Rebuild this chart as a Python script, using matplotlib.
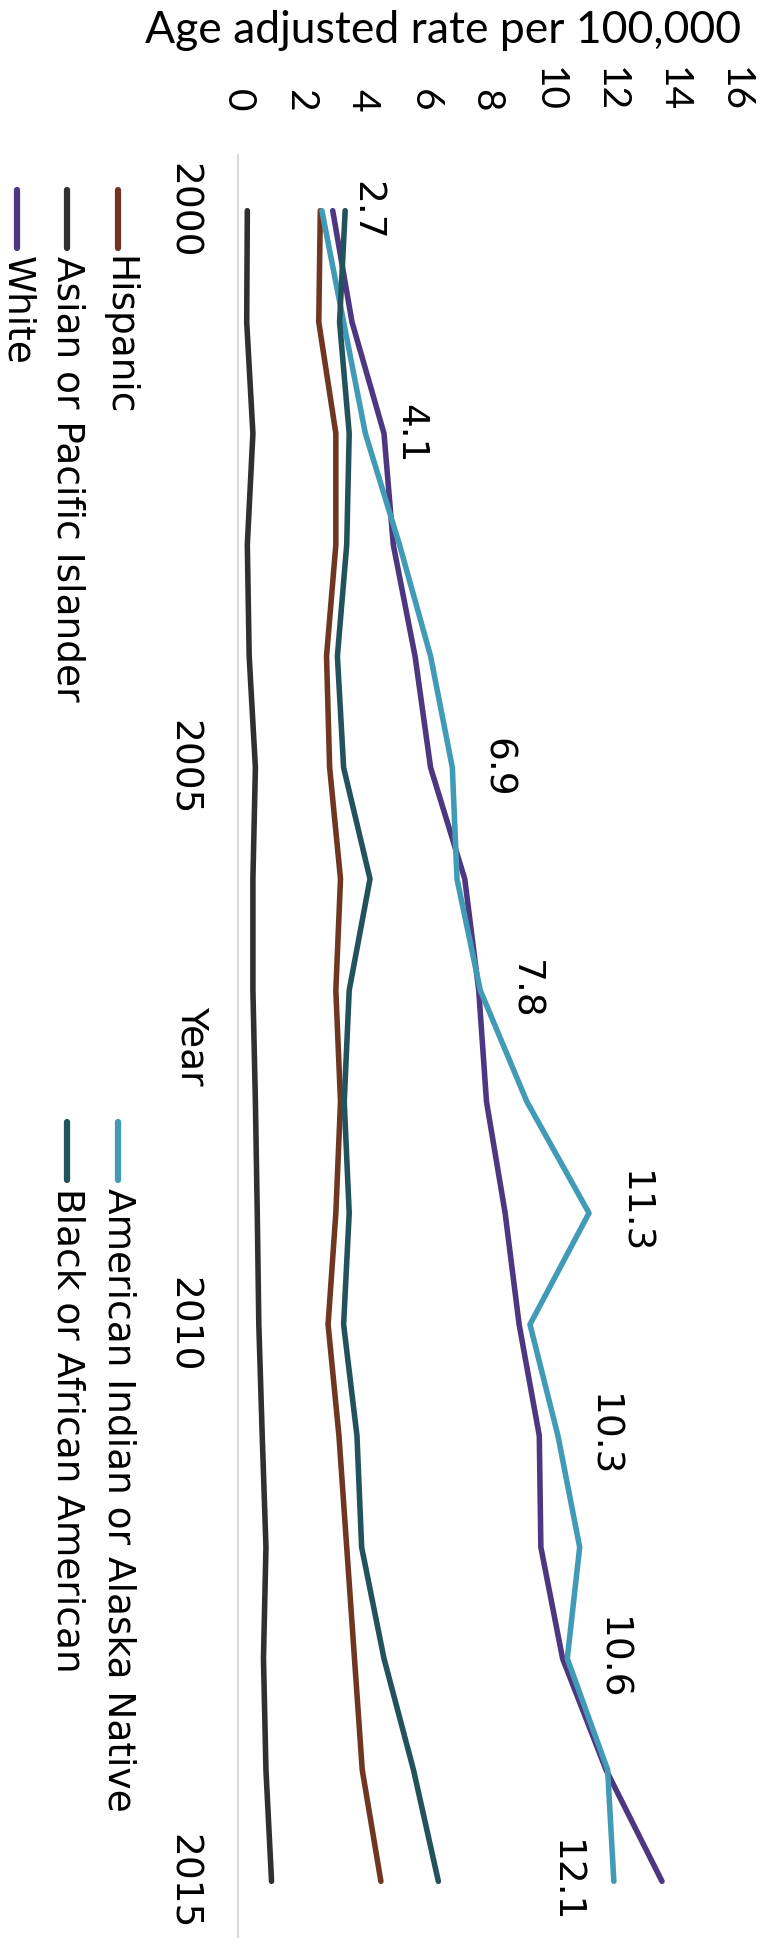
import matplotlib
matplotlib.use("Agg")
import matplotlib.pyplot as plt
from matplotlib.lines import Line2D

# rates per 100,000, one value per year
years = list(range(2000, 2016))
hispanic = [2.65, 2.6, 3.15, 3.15, 2.85, 2.95, 3.3, 3.15, 3.3, 3.15, 2.9, 3.25, 3.5, 3.75, 4.0, 4.6]
asian_pi = [0.3, 0.28, 0.48, 0.3, 0.36, 0.56, 0.48, 0.48, 0.56, 0.62, 0.67, 0.78, 0.9, 0.82, 0.9, 1.08]
white = [3.05, 3.67, 4.7, 5.0, 5.7, 6.2, 7.3, 7.75, 8.0, 8.6, 9.05, 9.7, 9.75, 10.45, 11.85, 13.65]
aian = [2.7, 3.4, 4.1, 5.2, 6.2, 6.9, 7.05, 7.8, 9.3, 11.3, 9.4, 10.3, 11.0, 10.6, 11.9, 12.1]
black = [3.45, 3.27, 3.58, 3.5, 3.2, 3.4, 4.25, 3.58, 3.42, 3.58, 3.4, 3.83, 3.98, 4.7, 5.65, 6.45]

labelled_years = [2000, 2002, 2005, 2007, 2009, 2011, 2013, 2015]
rate_ticks = list(range(0, 17, 2))
year_ticks = [2000, 2005, 2010, 2015]

series = [
    ("Hispanic", hispanic, "#6F3721"),
    ("Asian or Pacific Islander", asian_pi, "#303030"),
    ("White", white, "#4D3780"),
    ("American Indian or Alaska Native", aian, "#429BB6"),
    ("Black or African American", black, "#22535C"),
]

W, H = 760, 1944
fig = plt.figure(figsize=(W / 100, H / 100), dpi=100)


def fx(px):
    return px / W


def fy(py):
    return 1 - py / H


ax = fig.add_axes([fx(238), fy(1937), fx(735) - fx(238), fy(155) - fy(1937)])

# chart is turned on its side: rate runs across, years run downwards
for name, vals, col in series:
    ax.plot(vals, years, color=col, lw=4, solid_capstyle="round",
            solid_joinstyle="round")

for yr in labelled_years:
    v = aian[years.index(yr)]
    off = -35 if yr == 2015 else 32
    ax.annotate(f"{v:.1f}", (v, yr), xytext=(off, 0), textcoords="offset points",
                rotation=-90, ha="center", va="center", fontsize=27,
                family="DejaVu Sans")

ax.set_xlim(0, 16)
ax.set_ylim(2015.5, 1999.5)

ax.xaxis.tick_top()
ax.set_xticks(rate_ticks)
ax.set_xticklabels([str(t) for t in rate_ticks], family="Lato", fontsize=28)
ax.tick_params(axis="x", length=0, pad=31, labelrotation=-90)

ax.set_yticks(year_ticks)
ax.set_yticklabels([str(t) for t in year_ticks], fontsize=27)
ax.tick_params(axis="y", length=0, pad=27, labelrotation=-90)
for lbl in ax.get_yticklabels():
    lbl.set_va("center")

for s in ["top", "right", "bottom"]:
    ax.spines[s].set_visible(False)
ax.spines["left"].set_color("#D9D9D9")
ax.spines["left"].set_linewidth(1.5)

fig.text(fx(443), fy(43), "Age adjusted rate per 100,000", ha="center",
         va="baseline", family="Lato", fontsize=32)
fig.text(fx(192), fy(1046), "Year", rotation=-90, ha="center", va="center",
         fontsize=27)

# legend, two columns, drawn by hand so it can be turned too
legend_pos = [(118, 190), (67, 190), (17, 190), (118, 1122), (67, 1122)]
for (name, vals, col), (lx, ly) in zip(series, legend_pos):
    fig.add_artist(Line2D([fx(lx), fx(lx)], [fy(ly), fy(ly + 58)], color=col,
                          lw=4.5, solid_capstyle="round"))
    fig.text(fx(lx), fy(ly + 66), name, rotation=-90, ha="center", va="top",
             fontsize=27)

fig.savefig("out.png", dpi=100)
